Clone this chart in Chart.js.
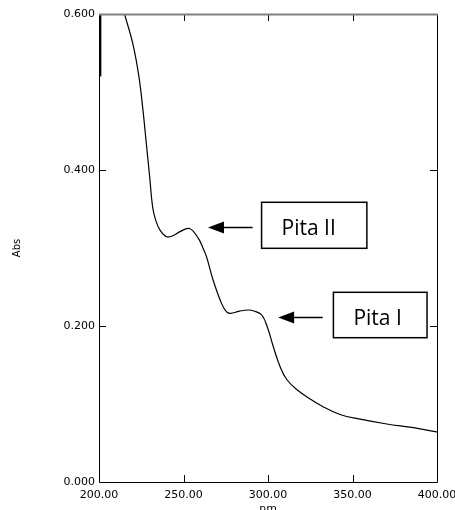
<!DOCTYPE html>
<html>
<head>
<meta charset="utf-8">
<script src="https://cdn.jsdelivr.net/npm/chart.js@4.4.1/dist/chart.umd.min.js"></script>
<style>
  html, body { margin: 0; padding: 0; background: #fff; }
  canvas { display: block; }
</style>
</head>
<body>
<canvas id="spectrum" width="455" height="510"></canvas>
<script>
// UV spectrum (nm, Abs)
const wavelengths = [212, 215.1, 220.0, 223.6, 226.0, 228.0, 230.0, 231.7, 233.5, 236.1, 240.1,
  244.0, 247.9, 253.5, 258.8, 261.5, 263.6, 267.5, 272.5, 275.5, 277.8, 283.0, 288.5, 291.3,
  296.3, 300.2, 303.1, 307.1, 311.1, 317.0, 324.9, 331.8, 342.6, 354.5, 370.3, 386.1, 399.0, 400.0];
const absorbance = [0.625, 0.600, 0.562, 0.520, 0.477, 0.434, 0.391, 0.353, 0.336, 0.323, 0.3145,
  0.316, 0.321, 0.325, 0.3124, 0.300, 0.289, 0.259, 0.229, 0.218, 0.2163, 0.219, 0.2205, 0.2195,
  0.2141, 0.1949, 0.1737, 0.1481, 0.1314, 0.1186, 0.1065, 0.0975, 0.0865, 0.0805, 0.0744, 0.0696, 0.0645, 0.064];

// off-scale blip at the start of the scan
const spikeWavelengths = [200.5, 200.5];
const spikeAbsorbance = [0.52, 0.60];

const xTicks = [200, 250, 300, 350, 400];
const yTicks = [0, 0.2, 0.4, 0.6];

// peak labels, placed in data units
const peakLabels = ["Pita II", "Pita I"];
const boxLeft = [296.2, 338.7];
const boxRight = [358.5, 394.1];
const boxTop = [0.3586, 0.2432];
const boxBottom = [0.2996, 0.1850];
const arrowTip = [264.5, 306.0];
const arrowTail = [290.9, 332.4];
const arrowLevel = [0.3265, 0.2112];

const tickFont = { family: "DejaVu Sans", size: 11 };

const framePlugin = {
  id: "frame",
  afterDatasetsDraw(chart) {
    const { ctx, chartArea: a, scales: { x, y } } = chart;
    ctx.save();
    ctx.strokeStyle = "#000";
    ctx.lineWidth = 1;
    ctx.beginPath();
    ctx.moveTo(a.left + 0.5, a.top);
    ctx.lineTo(a.left + 0.5, a.bottom + 0.5);
    ctx.lineTo(a.right + 0.5, a.bottom + 0.5);
    ctx.lineTo(a.right + 0.5, a.top);
    // inward ticks on all four sides
    xTicks.slice(1, -1).forEach(v => {
      const px = Math.round(x.getPixelForValue(v)) + 0.5;
      ctx.moveTo(px, a.bottom);
      ctx.lineTo(px, a.bottom - 7);
      ctx.moveTo(px, a.top);
      ctx.lineTo(px, a.top + 7);
    });
    yTicks.slice(1, -1).forEach(v => {
      const py = Math.round(y.getPixelForValue(v)) + 0.5;
      ctx.moveTo(a.left, py);
      ctx.lineTo(a.left + 7, py);
      ctx.moveTo(a.right, py);
      ctx.lineTo(a.right - 7, py);
    });
    ctx.stroke();
    ctx.strokeStyle = "#808080";
    ctx.lineWidth = 2;
    ctx.beginPath();
    ctx.moveTo(a.left, a.top + 0.5);
    ctx.lineTo(a.right + 1, a.top + 0.5);
    ctx.stroke();
    ctx.restore();
  },
  afterDraw(chart) {
    const { ctx, scales: { x, y } } = chart;
    ctx.save();
    peakLabels.forEach((label, i) => {
      const l = x.getPixelForValue(boxLeft[i]);
      const r = x.getPixelForValue(boxRight[i]);
      const t = y.getPixelForValue(boxTop[i]);
      const b = y.getPixelForValue(boxBottom[i]);
      ctx.fillStyle = "#fff";
      ctx.fillRect(l, t, r - l, b - t);
      ctx.strokeStyle = "#000";
      ctx.lineWidth = 1.5;
      ctx.strokeRect(l, t, r - l, b - t);
      ctx.fillStyle = "#000";
      ctx.font = "21px 'Open Sans'";
      ctx.textBaseline = "alphabetic";
      ctx.textAlign = "left";
      ctx.fillText(label, l + 20, t + 33);

      const tip = x.getPixelForValue(arrowTip[i]);
      const tail = x.getPixelForValue(arrowTail[i]);
      const ay = Math.round(y.getPixelForValue(arrowLevel[i])) + 0.5;
      ctx.lineWidth = 1.3;
      ctx.beginPath();
      ctx.moveTo(tail, ay);
      ctx.lineTo(tip + 12, ay);
      ctx.stroke();
      ctx.beginPath();
      ctx.moveTo(tip, ay);
      ctx.lineTo(tip + 16, ay - 6);
      ctx.lineTo(tip + 16, ay + 6);
      ctx.closePath();
      ctx.fill();
    });
    ctx.restore();
  }
};

new Chart(document.getElementById("spectrum"), {
  type: "line",
  data: {
    datasets: [
      {
        data: wavelengths.map((w, i) => ({ x: w, y: absorbance[i] })),
        borderColor: "#000",
        borderWidth: 1.2,
        pointRadius: 0,
        tension: 0.4,
        fill: false
      },
      {
        data: spikeWavelengths.map((w, i) => ({ x: w, y: spikeAbsorbance[i] })),
        borderColor: "#000",
        borderWidth: 3,
        pointRadius: 0
      }
    ]
  },
  options: {
    responsive: false,
    animation: false,
    layout: { padding: { top: 14, right: 18, left: 0, bottom: 0 } },
    plugins: { legend: { display: false }, tooltip: { enabled: false } },
    scales: {
      x: {
        type: "linear",
        min: 200,
        max: 400,
        afterBuildTicks: s => { s.ticks = xTicks.map(v => ({ value: v })); },
        afterFit: s => { s.height = 28; s.paddingLeft = 0; s.paddingRight = 0; },
        grid: { display: false, drawTicks: false },
        border: { display: false },
        ticks: {
          font: tickFont,
          color: "#000",
          padding: 7,
          maxRotation: 0,
          callback: v => Number(v).toFixed(2)
        },
        title: {
          display: true,
          text: "nm",
          font: tickFont,
          color: "#000",
          padding: { top: 0, bottom: -6 }
        }
      },
      y: {
        min: 0,
        max: 0.6,
        afterBuildTicks: s => { s.ticks = yTicks.map(v => ({ value: v })); },
        afterFit: s => { s.width = 99; s.paddingTop = 0; s.paddingBottom = 0; },
        grid: { display: false, drawTicks: false },
        border: { display: false },
        ticks: {
          font: tickFont,
          color: "#000",
          padding: 4,
          callback: v => Number(v).toFixed(3)
        },
        title: {
          display: true,
          text: "Abs",
          font: { family: "DejaVu Sans", size: 10 },
          color: "#000",
          padding: { top: 11, bottom: 0 }
        }
      }
    }
  },
  plugins: [framePlugin]
});
</script>
</body>
</html>
